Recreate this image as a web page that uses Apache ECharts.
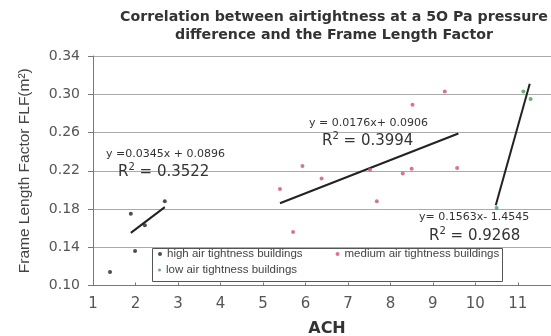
<!DOCTYPE html>
<html>
<head>
<meta charset="utf-8">
<script src="https://cdn.jsdelivr.net/npm/echarts@6/dist/echarts.min.js"></script>
<style>html,body{margin:0;padding:0;background:#fff}#c{width:551px;height:336px}</style>
</head>
<body>
<div id="c"></div>
<script>
// ---- data ----
const highX = [1.89, 2.69, 2.22, 1.99, 1.40];
const highY = [0.175, 0.188, 0.163, 0.136, 0.114];
const medX = [5.40, 5.93, 6.38, 5.71, 7.52, 7.68, 8.29, 8.50, 8.52, 9.28, 9.57];
const medY = [0.201, 0.225, 0.212, 0.156, 0.221, 0.188, 0.217, 0.222, 0.289, 0.303, 0.223];
const lowX = [11.13, 11.30, 10.50];
const lowY = [0.303, 0.295, 0.181];
const highFitX = [1.89, 2.69], highFitY = [0.155, 0.182];
const medFitX = [5.40, 9.60], medFitY = [0.186, 0.259];
const lowFitX = [10.48, 11.28], lowFitY = [0.184, 0.311];
const seriesNames = ['high air tightness buildings', 'medium air tightness buildings', 'low air tightness buildings'];
const titleLines = ['Correlation between airtightness at a 5O Pa pressure', 'difference and the Frame Length Factor'];
const eqTexts = ['y =0.0345x + 0.0896', 'y = 0.0176x+ 0.0906', 'y= 0.1563x- 1.4545'];
const r2Texts = ['0.3522', '0.3994', '0.9268'];
const xName = 'ACH';
const yName = 'Frame Length Factor FLF(m\u00B2)';

const pts = (xs, ys) => xs.map((x, i) => [x, ys[i]]);
const F = 'DejaVu Sans';
const L = 'Liberation Sans';

const chart = echarts.init(document.getElementById('c'));
const eqPos = [[106, 154], [309, 123], [419, 217]];
const rPos = [[118, 171], [322, 140], [429, 235]];
const graphics = [];
eqTexts.forEach((t, i) => graphics.push({
  type: 'text', x: eqPos[i][0], y: eqPos[i][1], z: 10,
  style: { text: t, font: '11px "' + F + '"', fill: '#333', verticalAlign: 'middle' }
}));
r2Texts.forEach((t, i) => graphics.push({
  type: 'text', x: rPos[i][0], y: rPos[i][1], z: 10,
  style: {
    text: '{a|R}{s|2}{a| = ' + t + '}', verticalAlign: 'middle', fill: '#333',
    rich: { a: { fontFamily: F, fontSize: 15, fill: '#333', lineHeight: 18, verticalAlign: 'bottom' },
            s: { fontFamily: F, fontSize: 10, fill: '#333', lineHeight: 18, verticalAlign: 'top' } }
  }
}));
graphics.push({
  type: 'rect', z: 3, shape: { x: 152.5, y: 248.5, width: 350, height: 33 },
  style: { fill: '#fff', stroke: '#555', lineWidth: 1 }
});

const fitSeries = (xs, ys) => ({
  type: 'line', data: pts(xs, ys), symbol: 'none', silent: true, z: 2,
  lineStyle: { color: '#222', width: 2 }, legendHoverLink: false
});

chart.setOption({
  animation: false,
  title: {
    text: titleLines.join('\n'), left: 329, top: 3, textAlign: 'center',
    textStyle: { fontFamily: F, fontSize: 14.2, fontWeight: 'bold', color: '#333', lineHeight: 18 }
  },
  legend: [
    { data: [seriesNames[0], seriesNames[1]], left: 152, top: 248, padding: [0, 6, 0, 6], z: 5,
      itemWidth: 4, itemHeight: 4, itemGap: 33, icon: 'circle',
      textStyle: { fontFamily: L, fontSize: 11.5, color: '#444' } },
    { data: [seriesNames[2]], left: 152, top: 264, padding: [0, 6, 0, 6], z: 5,
      itemWidth: 3, itemHeight: 3, icon: 'circle',
      textStyle: { fontFamily: L, fontSize: 11.5, color: '#444' } }
  ],
  grid: { left: 93, right: 0, top: 56, bottom: 50.5, containLabel: false, outerBoundsMode: 'none' },
  xAxis: {
    type: 'value', min: 1, max: 11.78, interval: 1,
    name: xName, nameLocation: 'middle', nameGap: 35,
    nameTextStyle: { fontFamily: F, fontSize: 16, fontWeight: 'bold', color: '#333', padding: [0, 0, 0, 10] },
    axisLine: { lineStyle: { color: '#777' } },
    axisTick: { inside: true, length: 3, lineStyle: { color: '#777' } },
    axisLabel: { fontFamily: F, fontSize: 15, color: '#555', margin: 11,
      formatter: v => (Math.abs(v - Math.round(v)) < 1e-6 ? String(Math.round(v)) : '') },
    splitLine: { show: false }
  },
  yAxis: {
    type: 'value', min: 0.10, max: 0.34, interval: 0.04,
    name: yName, nameLocation: 'middle', nameGap: 60, nameRotate: 90,
    nameTextStyle: { fontFamily: L, fontSize: 15.5, color: '#444' },
    axisLine: { show: true, lineStyle: { color: '#777' } },
    axisTick: { show: true, length: 5, lineStyle: { color: '#777' } },
    axisLabel: { fontFamily: F, fontSize: 14, color: '#555', margin: 13, formatter: v => v.toFixed(2) },
    splitLine: { lineStyle: { color: '#aaa' } }
  },
  series: [
    { name: seriesNames[0], type: 'scatter', data: pts(highX, highY), symbolSize: 4, itemStyle: { color: '#222' }, z: 3 },
    { name: seriesNames[1], type: 'scatter', data: pts(medX, medY), symbolSize: 4, itemStyle: { color: '#d0507a' }, z: 3 },
    { name: seriesNames[2], type: 'scatter', data: pts(lowX, lowY), symbolSize: 4, itemStyle: { color: '#4a9a5a' }, z: 3 },
    fitSeries(highFitX, highFitY),
    fitSeries(medFitX, medFitY),
    fitSeries(lowFitX, lowFitY)
  ],
  graphic: graphics
});
</script>
</body>
</html>
